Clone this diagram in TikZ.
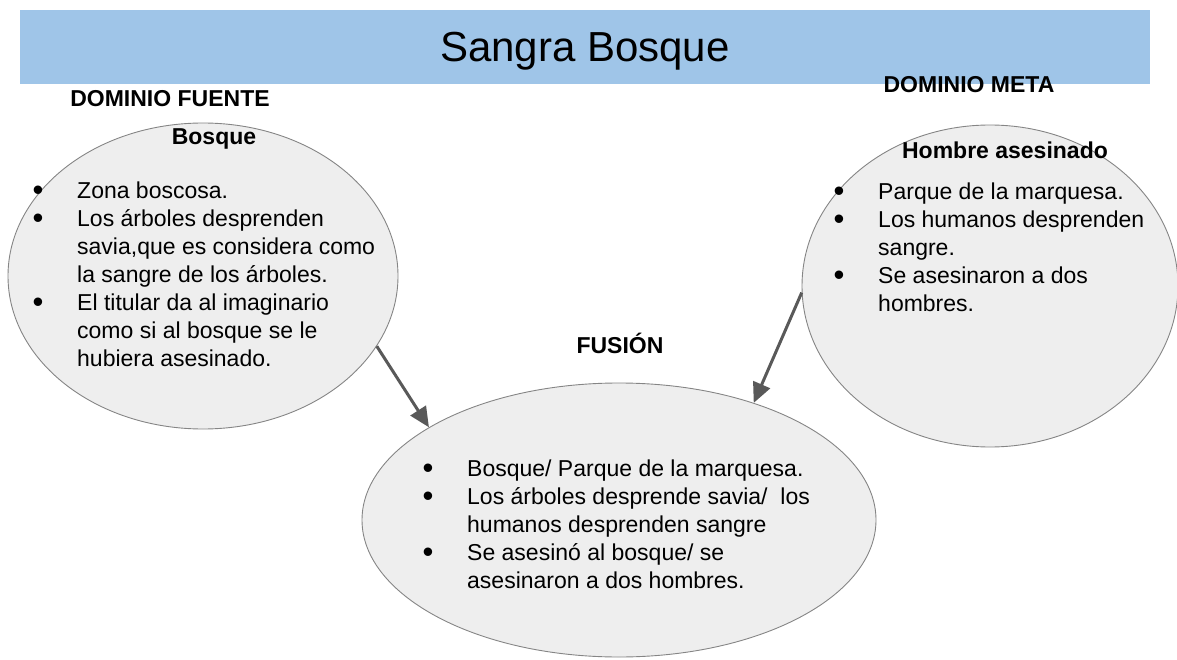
\documentclass[tikz,border=0pt]{standalone}
\usepackage{fontspec}
\setmainfont{Liberation Sans}
\usetikzlibrary{arrows.meta,shapes.geometric}

\definecolor{barblue}{HTML}{9FC5E8}
\definecolor{bubblegray}{HTML}{EEEEEE}
\definecolor{bordergray}{HTML}{858585}
\definecolor{arrowgray}{HTML}{595959}

\newcommand{\bul}{\makebox[43pt][l]{\hspace*{-1.5pt}\raisebox{-2pt}{\fontsize{31}{28}\selectfont\textbullet}}}
\newcommand{\cont}{\hspace*{43pt}}

\begin{document}
\begin{tikzpicture}[x=1pt,y=-1pt,
  bubble/.style={ellipse, draw=bordergray, line width=0.9pt, fill=bubblegray, inner sep=0pt},
  head/.style={font=\fontsize{23}{28}\selectfont\bfseries, anchor=base, inner sep=0pt},
  items/.style={font=\fontsize{23}{28}\selectfont, anchor=base west, inner sep=0pt},
  link/.style={-{Triangle[length=20pt,width=18pt]}, line width=3pt, draw=arrowgray}]

\useasboundingbox (0,0) rectangle (1177,660);

\fill[barblue] (20,10) rectangle (1150,84);
\node (title) at (585,62) [anchor=base, inner sep=0pt, font=\fontsize{42}{50}\selectfont] {Sangra Bosque};

\node (fuente) at (203,276) [bubble, minimum width=390pt, minimum height=306pt] {};
\node (meta) at (990,286) [bubble, minimum width=376pt, minimum height=322pt] {};
\node (fusion) at (619,520) [bubble, minimum width=514pt, minimum height=274pt] {};

\node (dfuente) at (170,107) [head] {DOMINIO FUENTE};
\node (dmeta) at (969,93) [head] {DOMINIO META};
\node (bosque) at (214,145) [head] {Bosque};
\node (hombre) at (1005,159) [head] {Hombre asesinado};
\node (dfusion) at (620,353) [head] {FUSIÓN};

\node (lfuente) at (34,199) [items] {\begin{tabular}[t]{@{}l@{}}
\bul Zona boscosa.\\
\bul Los árboles desprenden\\
\cont savia,que es considera como\\
\cont la sangre de los árboles.\\
\bul El titular da al imaginario\\
\cont como si al bosque se le\\
\cont hubiera asesinado.
\end{tabular}};

\node (lmeta) at (835,200) [items] {\begin{tabular}[t]{@{}l@{}}
\bul Parque de la marquesa.\\
\bul Los humanos desprenden\\
\cont sangre.\\
\bul Se asesinaron a dos\\
\cont hombres.
\end{tabular}};

\node (lfusion) at (424,476) [items] {\begin{tabular}[t]{@{}l@{}}
\bul Bosque/ Parque de la marquesa.\\
\bul Los árboles desprende savia/\ \ los\\
\cont humanos desprenden sangre\\
\bul Se asesinó al bosque/ se\\
\cont asesinaron a dos hombres.
\end{tabular}};

\draw[link] (fuente.-22) -- (fusion.154);
\draw[link] (meta.182) -- (fusion.41);

\end{tikzpicture}
\end{document}
